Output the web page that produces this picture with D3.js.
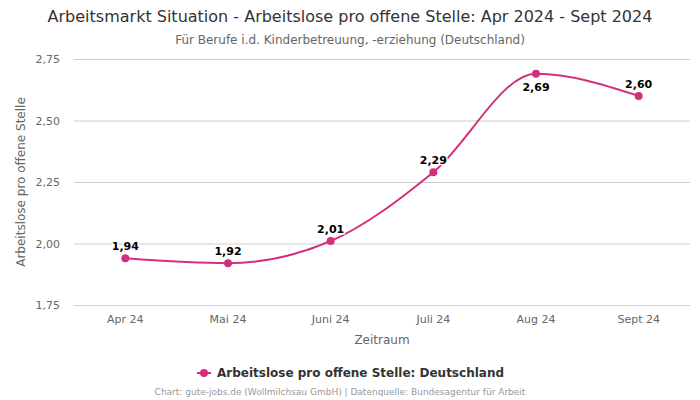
<!DOCTYPE html>
<html><head><meta charset="utf-8">
<script src="https://cdn.jsdelivr.net/npm/d3@7"></script>
<style>body{margin:0;background:#fff;font-family:"DejaVu Sans",sans-serif}</style>
</head><body><svg id="c" width="700" height="400"></svg>
<script>
const categories = ["Apr 24","Mai 24","Juni 24","Juli 24","Aug 24","Sept 24"];
const values = [1.94, 1.92, 2.01, 2.29, 2.69, 2.60];
const yTicks = [1.75, 2.00, 2.25, 2.50, 2.75];
const labelBelow = [false,false,false,false,true,false];
const color = "#d42f7e";
const svg = d3.select("#c");
const L=74,R=690,T=59,B=305;
const x = d3.scaleBand().domain(categories).range([L,R]);
const y = d3.scaleLinear().domain([1.75,2.75]).range([B,T]);
const fmt = v => d3.format(".2f")(v).replace(".",",");
svg.append("text").attr("x",350).attr("y",22).attr("text-anchor","middle").attr("font-size",16).attr("fill","#333").text("Arbeitsmarkt Situation - Arbeitslose pro offene Stelle: Apr 2024 - Sept 2024");
svg.append("text").attr("x",350).attr("y",44).attr("text-anchor","middle").attr("font-size",12).attr("fill","#666").text("Für Berufe i.d. Kinderbetreuung, -erziehung (Deutschland)");
const ga = svg.append("g").attr("transform",`translate(${L},0)`).call(d3.axisLeft(y).tickValues(yTicks).tickSize(-(R-L)).tickFormat(fmt));
ga.select(".domain").remove();
ga.selectAll("line").attr("stroke","#ccc");
ga.selectAll("text").attr("fill","#666").attr("font-size",11).attr("x",-14).attr("font-family","DejaVu Sans");
const gx = svg.append("g").attr("transform",`translate(0,${B})`).call(d3.axisBottom(x).tickSize(0).tickPadding(10));
gx.select(".domain").attr("stroke","#ccd6eb");
gx.selectAll("text").attr("fill","#666").attr("font-size",11).attr("font-family","DejaVu Sans");
svg.append("text").attr("x",(L+R)/2).attr("y",344).attr("text-anchor","middle").attr("font-size",12).attr("fill","#666").text("Zeitraum");
svg.append("text").attr("transform",`translate(25,${(T+B)/2}) rotate(-90)`).attr("text-anchor","middle").attr("font-size",12).attr("fill","#666").text("Arbeitslose pro offene Stelle");
const pts = categories.map((c,i)=>[x(c)+x.bandwidth()/2, y(values[i])]);
svg.append("path").attr("d",d3.line().curve(d3.curveMonotoneX)(pts)).attr("fill","none").attr("stroke",color).attr("stroke-width",2);
svg.selectAll("circle.p").data(pts).join("circle").attr("cx",d=>d[0]).attr("cy",d=>d[1]).attr("r",4).attr("fill",color);
svg.selectAll("text.l").data(pts).join("text").attr("x",d=>d[0]).attr("y",(d,i)=>labelBelow[i]?d[1]+17:d[1]-8)
 .attr("text-anchor","middle").attr("font-size",11).attr("font-weight","bold").attr("fill","#000")
 .attr("stroke","#fff").attr("stroke-width",3).attr("paint-order","stroke").text((d,i)=>fmt(values[i]));
const lg = svg.append("g");
lg.append("line").attr("x1",197).attr("x2",211).attr("y1",373).attr("y2",373).attr("stroke",color).attr("stroke-width",2);
lg.append("circle").attr("cx",204).attr("cy",373).attr("r",4).attr("fill",color);
lg.append("text").attr("x",217).attr("y",377).attr("font-size",12).attr("font-weight","bold").attr("fill","#333").text("Arbeitslose pro offene Stelle: Deutschland");
svg.append("text").attr("x",340).attr("y",395).attr("text-anchor","middle").attr("font-size",9).attr("fill","#999").text("Chart: gute-jobs.de (Wollmilchsau GmbH) | Datenquelle: Bundesagentur für Arbeit");
</script></body></html>
